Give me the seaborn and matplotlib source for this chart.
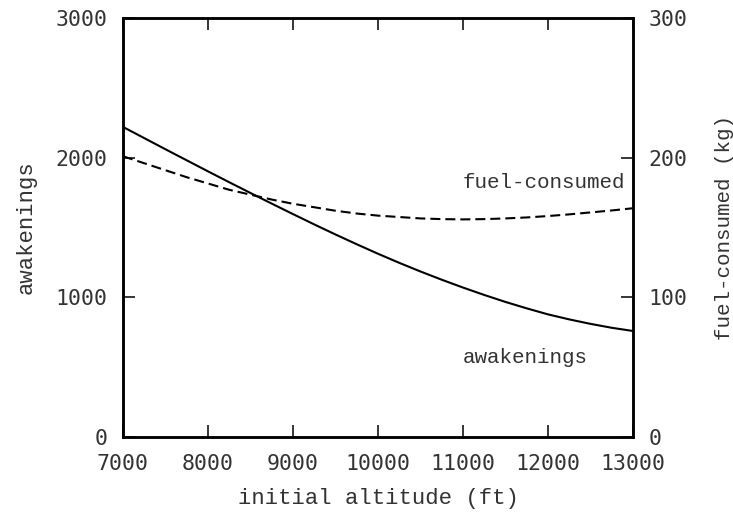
import matplotlib
matplotlib.use("Agg")
import matplotlib.pyplot as plt
import seaborn as sns
import pandas as pd

altitude = [7000, 7250, 7500, 7750, 8000, 8250, 8500, 8750, 9000, 9250, 9500, 9750,
            10000, 10250, 10500, 10750, 11000, 11250, 11500, 11750, 12000, 12250,
            12500, 12750, 13000]
awakenings = [2220, 2140, 2060, 1981, 1902, 1824, 1747, 1671, 1596, 1522, 1450, 1380,
              1312, 1247, 1185, 1126, 1070, 1017, 967, 921, 878, 842, 810, 782, 759]
fuel_consumed = [201, 196, 191, 186, 181.5, 177, 173.5, 170, 167, 164.5, 162, 160,
                 158.5, 157.5, 156.5, 156, 155.8, 156, 156.5, 157.2, 158.2, 159.4,
                 160.8, 162.2, 163.8]

x_ticks = [7000, 8000, 9000, 10000, 11000, 12000, 13000]
y_ticks = [0, 1000, 2000, 3000]
y2_ticks = [0, 100, 200, 300]

df = pd.DataFrame({"altitude": altitude, "awakenings": awakenings, "fuel": fuel_consumed})

sns.set_style("ticks")
plt.rcParams["font.family"] = ["Liberation Mono", "DejaVu Sans Mono"]

fig = plt.figure(figsize=(7.33, 5.13), dpi=100)
ax = fig.add_axes([123/733, 1-437/513, 510/733, 419/513])
ax2 = ax.twinx()

sns.lineplot(data=df, x="altitude", y="awakenings", ax=ax, color="black", linewidth=1.5)
sns.lineplot(data=df, x="altitude", y="fuel", ax=ax2, color="black", linewidth=1.5)
ax2.lines[0].set_dashes((4.8, 2.4))

ax.set_xlim(7000, 13000)
ax.set_ylim(0, 3000)
ax2.set_ylim(0, 300)
ax.set_xticks(x_ticks)
ax.set_yticks(y_ticks)
ax2.set_yticks(y2_ticks)

tc = "#333333"
tickfont = dict(family="DejaVu Sans Mono", size=15.5)
ax.set_xticklabels([str(v) for v in x_ticks], fontdict=tickfont, color=tc)
ax.set_yticklabels([str(v) for v in y_ticks], fontdict=tickfont, color=tc)
ax2.set_yticklabels([str(v) for v in y2_ticks], fontdict=tickfont, color=tc)

ax.tick_params(axis="x", which="both", direction="in", length=8.5, width=1.3,
               top=True, bottom=True, pad=12)
ax.tick_params(axis="y", direction="in", length=8.5, width=1.3, left=True, right=False, pad=11)
ax2.tick_params(axis="y", direction="in", length=8.5, width=1.3, right=True, left=False, pad=11)

for a in (ax, ax2):
    for s in a.spines.values():
        s.set_linewidth(1.8)
        s.set_color("black")
        s.set_visible(True)

labfont = dict(family="Liberation Mono", size=16)
ax.set_xlabel("initial altitude (ft)", fontdict=labfont, labelpad=10, color=tc)
ax.set_ylabel("awakenings", fontdict=labfont, labelpad=14, color=tc)
ax2.set_ylabel("fuel-consumed (kg)", fontdict=dict(family="Liberation Mono", size=15), color=tc)
ax2.yaxis.set_label_coords((724 - 123) / 510, 0.5)
ax2.yaxis.label.set_verticalalignment("center")

txtfont = dict(family="Liberation Mono", size=15)
ax.text(11000, 1821, "fuel-consumed", fontdict=txtfont, ha="left", va="center", color=tc)
ax.text(11000, 571, "awakenings", fontdict=txtfont, ha="left", va="center", color=tc)

fig.savefig("out.png", dpi=100)
